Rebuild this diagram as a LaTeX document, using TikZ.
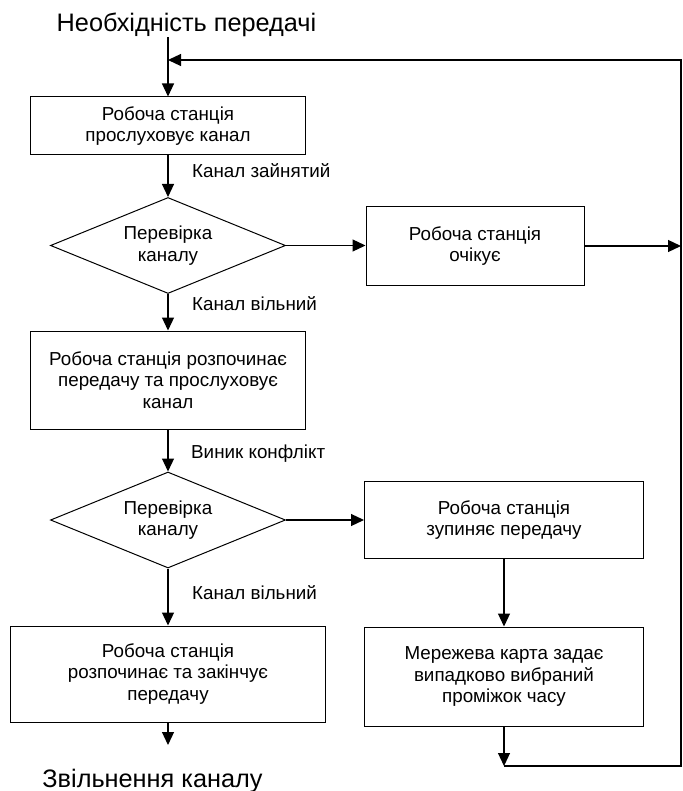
\documentclass[tikz,border=0pt]{standalone}
\usepackage{fontspec}
\setmainfont{Liberation Sans}
\usetikzlibrary{shapes.geometric,arrows.meta}

\begin{document}
\begin{tikzpicture}[x=1pt,y=-1pt,
	box/.style={rectangle, draw, line width=1pt, align=center, inner sep=0pt, font=\fontsize{18.8}{21.5}\selectfont},
	check/.style={diamond, draw, line width=1pt, align=center, inner sep=0pt, aspect=2.45, minimum width=235pt, minimum height=96pt, font=\fontsize{18.8}{21.5}\selectfont},
	arr/.style={line width=1.2pt, -{Triangle[length=13pt,width=12pt]}},
	lbl/.style={anchor=base west, inner sep=0pt, font=\fontsize{18.8}{21.5}\selectfont},
	ttl/.style={anchor=base, inner sep=0pt, font=\fontsize{25.3}{28}\selectfont}]
\useasboundingbox (0,0) rectangle (682,791);

\node[ttl] (need) at (186.5,32) {Необхідність передачі};
\node[box, minimum width=275pt, minimum height=58pt] (listen) at (168,126) {Робоча станція\\прослуховує канал};
\node[check] (check1) at (168,245.5) {Перевірка\\каналу};
\node[box, minimum width=218pt, minimum height=78pt] (wait) at (475,246) {Робоча станція\\очікує};
\node[box, minimum width=275pt, minimum height=98pt] (start) at (168,380) {Робоча станція розпочинає\\передачу та прослуховує\\канал};
\node[check] (check2) at (168,520) {Перевірка\\каналу};
\node[box, minimum width=279pt, minimum height=77pt] (stop) at (504,520) {Робоча станція\\зупиняє передачу};
\node[box, minimum width=279pt, minimum height=99pt] (backoff) at (504,676.5) {Мережева карта задає\\випадково вибраний\\проміжок часу};
\node[box, minimum width=315pt, minimum height=96pt] (finish) at (168,674) {Робоча станція\\розпочинає та закінчує\\передачу};
\node[ttl] (release) at (152.5,787) {Звільнення каналу};

\node[lbl] (busy) at (192,178) {Канал зайнятий};
\node[lbl] (free1) at (192,310) {Канал вільний};
\node[lbl] (clash) at (191,458) {Виник конфлікт};
\node[lbl] (free2) at (192,599) {Канал вільний};

\coordinate (fin-out) at (168,745);
\coordinate (loop-b) at (504,766);
\coordinate (loop-r) at (681,766);
\coordinate (loop-t) at (681,60);

\draw[arr] (need.south -| listen.north) -- (listen.north);
\draw[arr] (listen) -- (check1);
\draw[arr] (check1.east) -- (check1.east -| wait.west);
\draw[arr] (wait.east) -- (wait.east -| loop-r);
\draw[arr] (check1) -- (start);
\draw[arr] (start) -- (check2);
\draw[arr] (check2.east) -- (check2.east -| stop.west);
\draw[arr] (check2) -- (finish);
\draw[arr] (stop) -- (backoff);
\draw[arr] (finish) -- (fin-out);
\draw[arr] (backoff) -- (loop-b);
\draw[arr] (loop-b) -- (loop-r) -- (loop-t) -- (loop-t -| listen.north);
\end{tikzpicture}
\end{document}
